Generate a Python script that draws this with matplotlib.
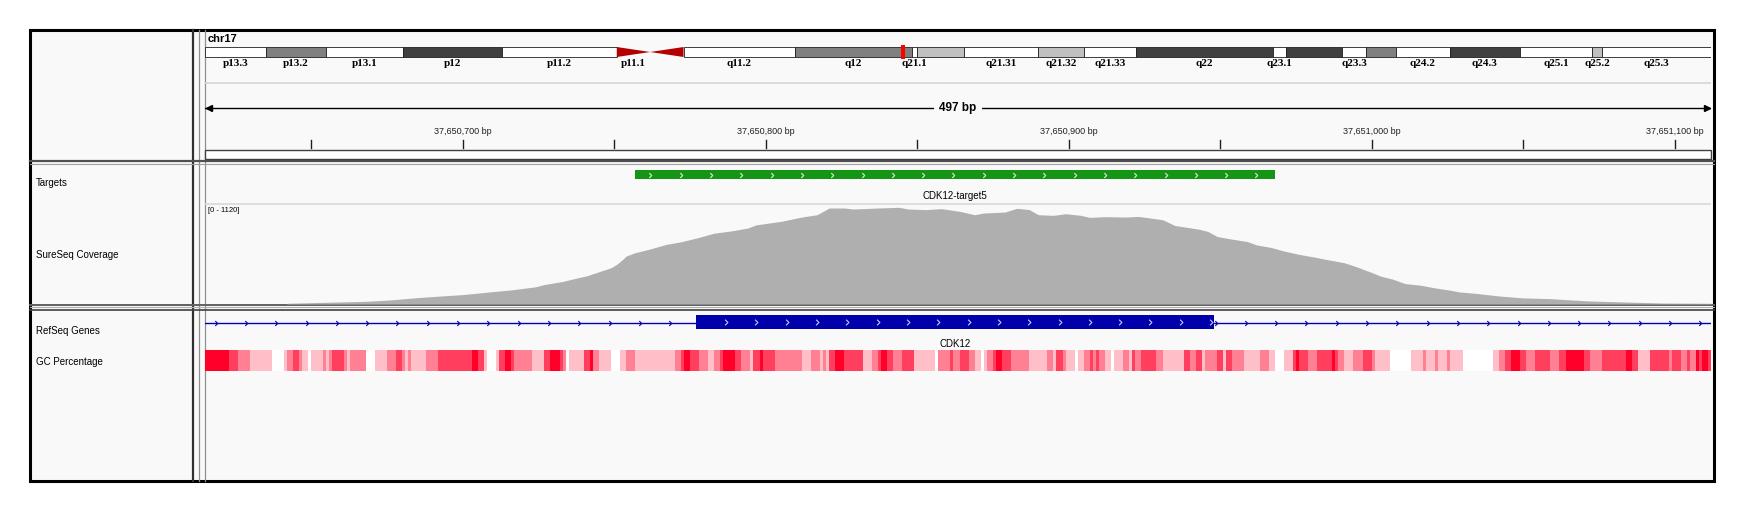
import numpy as np
import matplotlib
matplotlib.use('Agg')
import matplotlib.pyplot as plt
from matplotlib.patches import Rectangle, Polygon
from matplotlib.path import Path
from matplotlib.colors import LinearSegmentedColormap, Normalize

plt.rcParams['font.family'] = ['Liberation Sans', 'DejaVu Sans']

# ---------------
# Data

chrom = 'chr17'
chrom_len = 81195210
region_start = 37650615      # left edge of the view (bp)
region_len = 497             # width of the view (bp)

# hg19 chr17 cytobands
band_name = ['p13.3', 'p13.2', 'p13.1', 'p12', 'p11.2', 'p11.1', 'q11.1', 'q11.2',
             'q12', 'q21.1', 'q21.2', 'q21.31', 'q21.32', 'q21.33', 'q22', 'q23.1',
             'q23.2', 'q23.3', 'q24.1', 'q24.2', 'q24.3', 'q25.1', 'q25.2', 'q25.3']
band_start = [0, 3300000, 6500000, 10700000, 16000000, 22200000, 24000000, 25800000,
              31800000, 38100000, 38400000, 40900000, 44900000, 47400000, 50200000, 57600000,
              58300000, 61300000, 62600000, 64200000, 67100000, 70900000, 74800000, 75300000]
band_end = band_start[1:] + [chrom_len]
band_stain = ['gneg', 'gpos50', 'gneg', 'gpos75', 'gneg', 'acen', 'acen', 'gneg',
              'gpos50', 'gneg', 'gpos25', 'gneg', 'gpos25', 'gneg', 'gpos75', 'gneg',
              'gpos75', 'gneg', 'gpos50', 'gneg', 'gpos75', 'gneg', 'gpos25', 'gneg']
band_hidden = ['q11.1', 'q21.2', 'q23.2', 'q24.1']   # labels IGV dropped (no room)

# Targets track
target_name = 'CDK12-target5'
target_start = 37650757
target_end = 37650968

# RefSeq gene (one exon in view, intron line runs through the whole view)
gene_name = 'CDK12'
exon_start = 37650777
exon_end = 37650948

# SureSeq coverage, offsets from region_start (bp) and depth
cov_max = 1120
cov_offset = [27, 40, 53, 61, 70, 78, 85, 93, 101, 109, 112, 118, 123, 126, 130, 134,
              136, 138, 139, 142, 147, 152, 157, 162, 168, 174, 179, 182, 190, 197, 202,
              206, 211, 214, 222, 229, 232, 238, 243, 249, 254, 257, 264, 268, 272, 275,
              280, 284, 289, 292, 297, 304, 308, 312, 316, 320, 328, 331, 334, 337, 344,
              347, 352, 356, 361, 366, 371, 376, 380, 385, 388, 392, 396, 401, 406, 411,
              414, 420, 427, 435, 444, 451, 457, 468, 481, 497]
cov_value = [8, 19, 30, 45, 71, 90, 105, 132, 158, 192, 218, 252, 293, 316, 361, 406,
             447, 504, 538, 575, 617, 666, 696, 737, 793, 820, 850, 887, 925, 974, 1000,
             1075, 1075, 1064, 1075, 1083, 1064, 1057, 1068, 1038, 1000, 1019, 1030, 1072,
             1057, 1000, 993, 1011, 993, 970, 978, 974, 981, 963, 944, 880, 838, 812, 756,
             737, 699, 662, 632, 594, 556, 526, 493, 462, 417, 353, 312, 278, 229, 211,
             180, 154, 135, 117, 90, 68, 60, 45, 34, 23, 11, 8]

# GC percentage runs: start offset from region_start (bp) and GC %
gc_start = [0, 8, 11, 15, 22, 26, 27, 29, 31, 32, 34, 35, 39, 40, 41, 42, 46, 47, 48, 53,
            56, 60, 63, 65, 66, 67, 68, 73, 77, 88, 90, 92, 93, 96, 97, 99, 101, 102, 108,
            112, 114, 117, 118, 119, 120, 125, 127, 128, 130, 134, 137, 139, 142, 155, 157,
            158, 160, 163, 166, 168, 170, 171, 175, 177, 180, 181, 183, 184, 188, 197, 200,
            203, 204, 205, 206, 208, 211, 217, 220, 222, 223, 225, 227, 230, 234, 241, 242,
            246, 247, 249, 252, 254, 256, 257, 258, 260, 261, 263, 266, 272, 278, 280, 281,
            283, 284, 287, 288, 290, 292, 293, 294, 295, 297, 299, 300, 303, 305, 306, 307,
            309, 314, 316, 323, 325, 327, 329, 330, 334, 336, 337, 339, 343, 348, 351, 353,
            356, 359, 360, 361, 364, 367, 372, 373, 374, 376, 379, 382, 385, 386, 391, 398,
            402, 403, 406, 407, 410, 411, 415, 425, 427, 429, 431, 434, 436, 439, 444, 447,
            449, 455, 457, 461, 469, 471, 473, 477, 483, 484, 487, 489, 490, 492, 493, 494,
            496]
gc_pct = [70, 60, 50, 40, 25, 40, 50, 60, 50, 40, 25, 40, 50, 40, 50, 60, 50, 40, 50, 25,
          40, 50, 60, 50, 40, 50, 40, 50, 60, 70, 60, 40, 25, 40, 60, 70, 60, 50, 40,
          60, 70, 60, 50, 25, 40, 60, 70, 50, 40, 25, 40, 50, 40, 50, 60,
          70, 60, 50, 40, 50, 60, 70, 60, 50, 40, 60, 70, 60, 50, 40, 50,
          40, 50, 40, 60, 70, 60, 40, 50, 60, 70, 60, 50, 60, 40, 25, 50,
          60, 50, 60, 50, 40, 25, 40, 50, 60, 70, 60, 50, 40, 50, 40, 60,
          50, 40, 25, 40, 50, 60, 50, 60, 50, 40, 25, 40, 50, 40, 60, 50,
          60, 50, 40, 60, 50, 60, 40, 50, 60, 40, 60, 50, 40, 50, 40, 25,
          40, 60, 70, 60, 50, 60, 70, 60, 50, 40, 50, 60, 50, 40, 25, 40,
          50, 40, 50, 40, 50, 40, 25, 40, 50, 60, 70, 60, 50, 60, 50, 60,
          70, 60, 50, 60, 70, 60, 40, 60, 50, 60, 50, 60, 50, 70, 60, 70,
          60]

track_names = ['Targets', 'SureSeq Coverage', 'RefSeq Genes', 'GC Percentage']

# ---------------
# Layout (pixels of the 1750 x 512 screenshot)

W, H = 1750, 512
x_left, x_right = 205, 1711        # data area
bg = '#F9F9F9'
region_end = region_start + region_len

fig = plt.figure(figsize=(W / 100, H / 100), dpi=100)
fig.patch.set_facecolor('white')


def px_axes(x0, y0, x1, y1, z=1):
    a = fig.add_axes([x0 / W, 1 - y1 / H, (x1 - x0) / W, (y1 - y0) / H])
    a.set_axis_off()
    a.set_zorder(z)
    return a


# Frame / panels
fr = px_axes(0, 0, W, H, z=0)
fr.set_xlim(0, W)
fr.set_ylim(H, 0)
fr.add_patch(Rectangle((30, 30), 1684, 451, fc=bg, ec='none'))
for xv, c, lw in [(193, '#303030', 1.6), (199, '#909090', 0.9), (204.5, '#909090', 0.9)]:
    fr.plot([xv, xv], [30, 481], color=c, lw=lw)
for yv, c, lw in [(161.2, '#505050', 1.6), (163.5, '#A0A0A0', 0.8),
                  (304.8, '#606060', 1.4), (306.5, '#B0B0B0', 0.8), (309.5, '#404040', 1.2)]:
    fr.plot([30, 1714], [yv, yv], color=c, lw=lw)
fr.add_patch(Rectangle((30, 30), 1684, 451, fill=False, ec='black', lw=2.2))

fr.text(208, 39, chrom, fontsize=8, fontweight='bold', ha='left', va='center')
for name, yv in zip(track_names, [183, 255, 331, 362]):
    fr.text(36, yv, name, fontsize=7, ha='left', va='center')
fr.text(208, 211, f'[0 - {cov_max}]', fontsize=5.5, ha='left', va='center')

# ---------------
# Ideogram
ideo = px_axes(x_left, 0, x_right, H, z=2)
ideo.set_xlim(0, chrom_len)
ideo.set_ylim(H, 0)
stain_color = {'gneg': 'white', 'gpos25': '#C0C0C0', 'gpos50': '#808080',
               'gpos75': '#404040', 'acen': '#B40000'}
y0, hh = 47, 10
for name, s, e, st in zip(band_name, band_start, band_end, band_stain):
    if st == 'acen':
        if name.startswith('p'):
            pts = [(s, y0), (e, y0 + hh / 2), (s, y0 + hh)]
        else:
            pts = [(s, y0 + hh / 2), (e, y0), (e, y0 + hh)]
        ideo.add_patch(Polygon(pts, closed=True, fc=stain_color[st], ec='none'))
    else:
        ideo.add_patch(Rectangle((s, y0), e - s, hh, fc=stain_color[st],
                                 ec='#202020', lw=0.6))
    if name not in band_hidden:
        ideo.text((s + e) / 2, 63.5, name, fontsize=8, fontweight='bold',
                  family='Liberation Serif', ha='center', va='center')
mark_w = chrom_len * 4 / (x_right - x_left)
mid = region_start + region_len / 2
ideo.add_patch(Rectangle((mid - mark_w / 2, 45), mark_w, 14, fc='#FF0000', ec='none'))

# ---------------
# Region tracks (x in bp, y in screen pixels)
ax = px_axes(x_left, 0, x_right, H, z=2)
ax.set_xlim(region_start, region_end)
ax.set_ylim(H, 0)

ax.plot([x_left, x_right], [83, 83], color='#D6D6D6', lw=1.2, transform=fr.transData)

# ruler
ax.plot([region_start, region_end], [108, 108], color='black', lw=1)
ax.plot([region_start + 1.2], [108], marker='<', ms=5, color='black', clip_on=False)
ax.plot([region_end - 1.2], [108], marker='>', ms=5, color='black', clip_on=False)
ax.text(mid, 108, f'{region_len} bp', fontsize=8.5, fontweight='bold', ha='center',
        va='center', bbox=dict(fc=bg, ec='none', pad=4))
for t in range((region_start // 50 + 1) * 50, region_end, 50):
    ax.plot([t, t], [140, 148], color='#202020', lw=1)
    if t % 100 == 0:
        ax.text(t, 131, f'{t:,} bp', fontsize=6.5, ha='center', va='center',
                color='#202020')
ax.add_patch(Rectangle((region_start, 150), region_len, 9, fc='white', ec='#404040',
                       lw=1, clip_on=False))

# chevron glyph used by feature tracks
chev = Path([(-0.5, 1.0), (0.5, 0.0), (-0.5, -1.0)],
            [Path.MOVETO, Path.LINETO, Path.LINETO])

# targets
ax.add_patch(Rectangle((target_start, 170), target_end - target_start, 9,
                       fc='#149614', ec='none'))
tx = np.arange(target_start + 5, target_end - 2, 10)
ax.plot(tx, np.full(len(tx), 174.5), ls='none', marker=chev, ms=3.5, mfc='none',
        mec='#D8EED8', mew=0.8)
ax.text((target_start + target_end) / 2, 196, target_name, fontsize=7, ha='center',
        va='center')
ax.plot([region_start, region_end], [203.5, 203.5], color='#D8D8D8', lw=1.2)

# gene
ax.plot([region_start, region_end], [322.5, 322.5], color='#0000B4', lw=1)
gx = np.arange(region_start + 3.5, region_end, 10)
gx = gx[(gx < exon_start) | (gx > exon_end)]
ax.plot(gx, np.full(len(gx), 322.5), ls='none', marker=chev, ms=3.5, mfc='none',
        mec='#0000B4', mew=0.8)
ax.add_patch(Rectangle((exon_start, 315), exon_end - exon_start, 14, fc='#0000AA',
                       ec='none'))
ex = np.arange(exon_start + 10, exon_end, 10)
ax.plot(ex, np.full(len(ex), 322), ls='none', marker=chev, ms=4, mfc='none',
        mec='#C8C8FF', mew=0.8)
ax.text((exon_start + exon_end) / 2, 344, gene_name, fontsize=7, ha='center',
        va='center')

# GC percentage heat strip
gc_cmap = LinearSegmentedColormap.from_list('gc', ['#FFFFFF', '#FF0028'])
gc_edges = region_start + np.array(gc_start + [region_len], dtype=float)
ax.pcolormesh(gc_edges, [350, 371], np.array([gc_pct], dtype=float), cmap=gc_cmap,
              norm=Normalize(30, 70, clip=True), shading='flat', edgecolors='none',
              antialiased=False)

# ---------------
# Coverage
cov = px_axes(x_left, 204, x_right, 304, z=2)
cov.set_xlim(region_start, region_end)
cov.set_ylim(0, cov_max)
cov_x = region_start + np.array(cov_offset, dtype=float)
cov.fill_between(cov_x, cov_value, 0, color='#AFAFAF', lw=0)

fig.savefig('out.png', dpi=100, facecolor='white')
